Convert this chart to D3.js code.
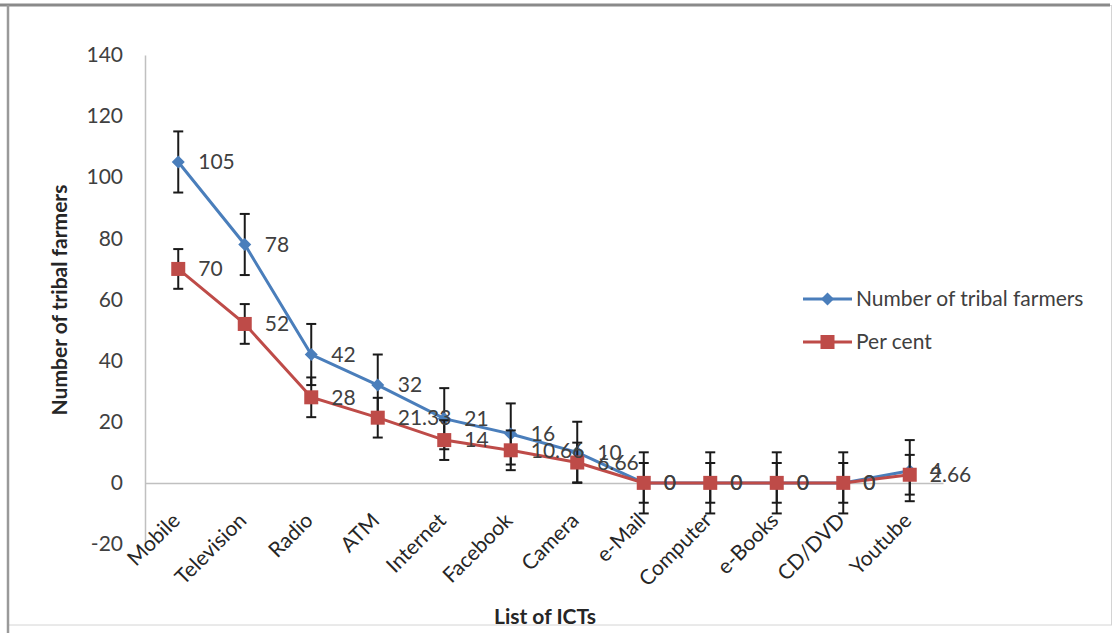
<!DOCTYPE html>
<html><head><meta charset="utf-8">
<script src="https://cdn.jsdelivr.net/npm/d3@7"></script>
<style>body{margin:0;background:#fff;} svg{display:block;font-family:Lato,"Open Sans",sans-serif;}</style>
</head><body>
<svg id="c" width="1116" height="633"></svg>
<script>
const categories = ["Mobile","Television","Radio","ATM","Internet","Facebook","Camera","e-Mail","Computer","e-Books","CD/DVD","Youtube"];
const farmers = [105,78,42,32,21,16,10,0,0,0,0,4];
const farmersLabels = ["105","78","42","32","21","16","10","0","0","0","0","4"];
const percent = [70,52,28,21.33,14,10.66,6.66,0,0,0,0,2.66];
const percentLabels = ["70","52","28","21.33","14","10.66","6.66","0","0","0","0","2.66"];
const farmersErr = [10,10,10,10,10,10,10,10,10,10,10,10];
const percentErr = [6.5,6.5,6.5,6.5,6.5,6.5,6.5,6.5,6.5,6.5,6.5,6.5];
const yTicks = [-20,0,20,40,60,80,100,120,140];
const seriesNames = ["Number of tribal farmers","Per cent"];

const FS = 21;
const svg = d3.select("#c");
// chart frame
svg.append("rect").attr("x",8.5).attr("y",5.5).attr("width",1103).attr("height",619.5)
  .attr("fill","none").attr("stroke","#d4d4d4").attr("stroke-width",1);
svg.append("line").attr("x1",0).attr("x2",1110).attr("y1",5).attr("y2",5).attr("stroke","#8a8a8a").attr("stroke-width",3);
svg.append("line").attr("x1",8).attr("x2",8).attr("y1",5).attr("y2",633).attr("stroke","#9a9a9a").attr("stroke-width",2.5);

const x = d3.scaleBand().domain(categories).range([145,943]);
const y = d3.scaleLinear().domain([-20,140]).range([544,55]);
const cx = d => x(d) + x.bandwidth()/2;

// y axis
const yAxis = d3.axisLeft(y).tickValues(yTicks).tickSize(0).tickPadding(22).tickFormat(d=>String(d));
const ga = svg.append("g").attr("transform","translate(145,0)").call(yAxis);
ga.select(".domain").attr("stroke","#c0c0c0").attr("stroke-width",1.5);
ga.selectAll("text").attr("font-size",FS).attr("fill","#404040").attr("font-family","Lato,sans-serif");

// zero line / category axis
const xAxis = d3.axisBottom(x).tickSize(0).tickFormat(()=>"");
const gx = svg.append("g").attr("transform",`translate(0,${y(0)})`).call(xAxis);
gx.select(".domain").attr("stroke","#c0c0c0").attr("stroke-width",1.5);
svg.append("g").selectAll("text").data(categories).join("text")
  .attr("transform",d=>`translate(${cx(d)+3},${y(0)+39}) rotate(-45)`)
  .attr("text-anchor","end").attr("font-size",FS).attr("fill","#262626").text(d=>d);

// titles
svg.append("text").attr("transform","translate(67,300) rotate(-90)").attr("text-anchor","middle")
  .attr("font-size",21).attr("font-weight","bold").attr("fill","#262626").text("Number of tribal farmers");
svg.append("text").attr("x",545).attr("y",624).attr("text-anchor","middle")
  .attr("font-size",21).attr("font-weight","bold").attr("fill","#262626").text("List of ICTs");

const blue = "#4a7ebb", red = "#be4b48";
function drawSeries(vals, errs, color, marker){
  const g = svg.append("g");
  g.append("path").datum(vals).attr("fill","none").attr("stroke",color).attr("stroke-width",3)
    .attr("d", d3.line().x((d,i)=>cx(categories[i])).y(d=>y(d)));
  // error bars
  const eb = g.append("g").attr("stroke","#1a1a1a").attr("stroke-width",2);
  vals.forEach((v,i)=>{
    const px = cx(categories[i]);
    eb.append("line").attr("x1",px).attr("x2",px).attr("y1",y(v+errs[i])).attr("y2",y(v-errs[i]));
    eb.append("line").attr("x1",px-5).attr("x2",px+5).attr("y1",y(v+errs[i])).attr("y2",y(v+errs[i]));
    eb.append("line").attr("x1",px-5).attr("x2",px+5).attr("y1",y(v-errs[i])).attr("y2",y(v-errs[i]));
  });
  const mk = g.append("g").attr("fill",color);
  vals.forEach((v,i)=>{
    const px = cx(categories[i]), py = y(v);
    if(marker==="diamond"){
      mk.append("path").attr("d",`M${px},${py-6.5}L${px+6.5},${py}L${px},${py+6.5}L${px-6.5},${py}Z`);
    } else {
      mk.append("rect").attr("x",px-7).attr("y",py-7).attr("width",14).attr("height",14);
    }
  });
  return g;
}
drawSeries(farmers, farmersErr, blue, "diamond");
drawSeries(percent, percentErr, red, "square");

function labels(vals, labs){
  svg.append("g").selectAll("text").data(vals).join("text")
    .attr("x",(d,i)=>cx(categories[i])+20).attr("y",d=>y(d)).attr("dy","0.35em")
    .attr("font-size",FS).attr("fill","#404040").text((d,i)=>labs[i]);
}
labels(farmers, farmersLabels);
labels(percent, percentLabels);

// legend
const lg = svg.append("g");
lg.append("line").attr("x1",803).attr("x2",852).attr("y1",299).attr("y2",299).attr("stroke",blue).attr("stroke-width",3);
lg.append("path").attr("d","M827.5,292.5L834,299L827.5,305.5L821,299Z").attr("fill",blue);
lg.append("text").attr("x",856).attr("y",299).attr("dy","0.35em").attr("font-size",FS).attr("fill","#404040").text(seriesNames[0]);
lg.append("line").attr("x1",803).attr("x2",852).attr("y1",342).attr("y2",342).attr("stroke",red).attr("stroke-width",3);
lg.append("rect").attr("x",820.5).attr("y",335).attr("width",14).attr("height",14).attr("fill",red);
lg.append("text").attr("x",856).attr("y",342).attr("dy","0.35em").attr("font-size",FS).attr("fill","#404040").text(seriesNames[1]);
</script>
</body></html>
